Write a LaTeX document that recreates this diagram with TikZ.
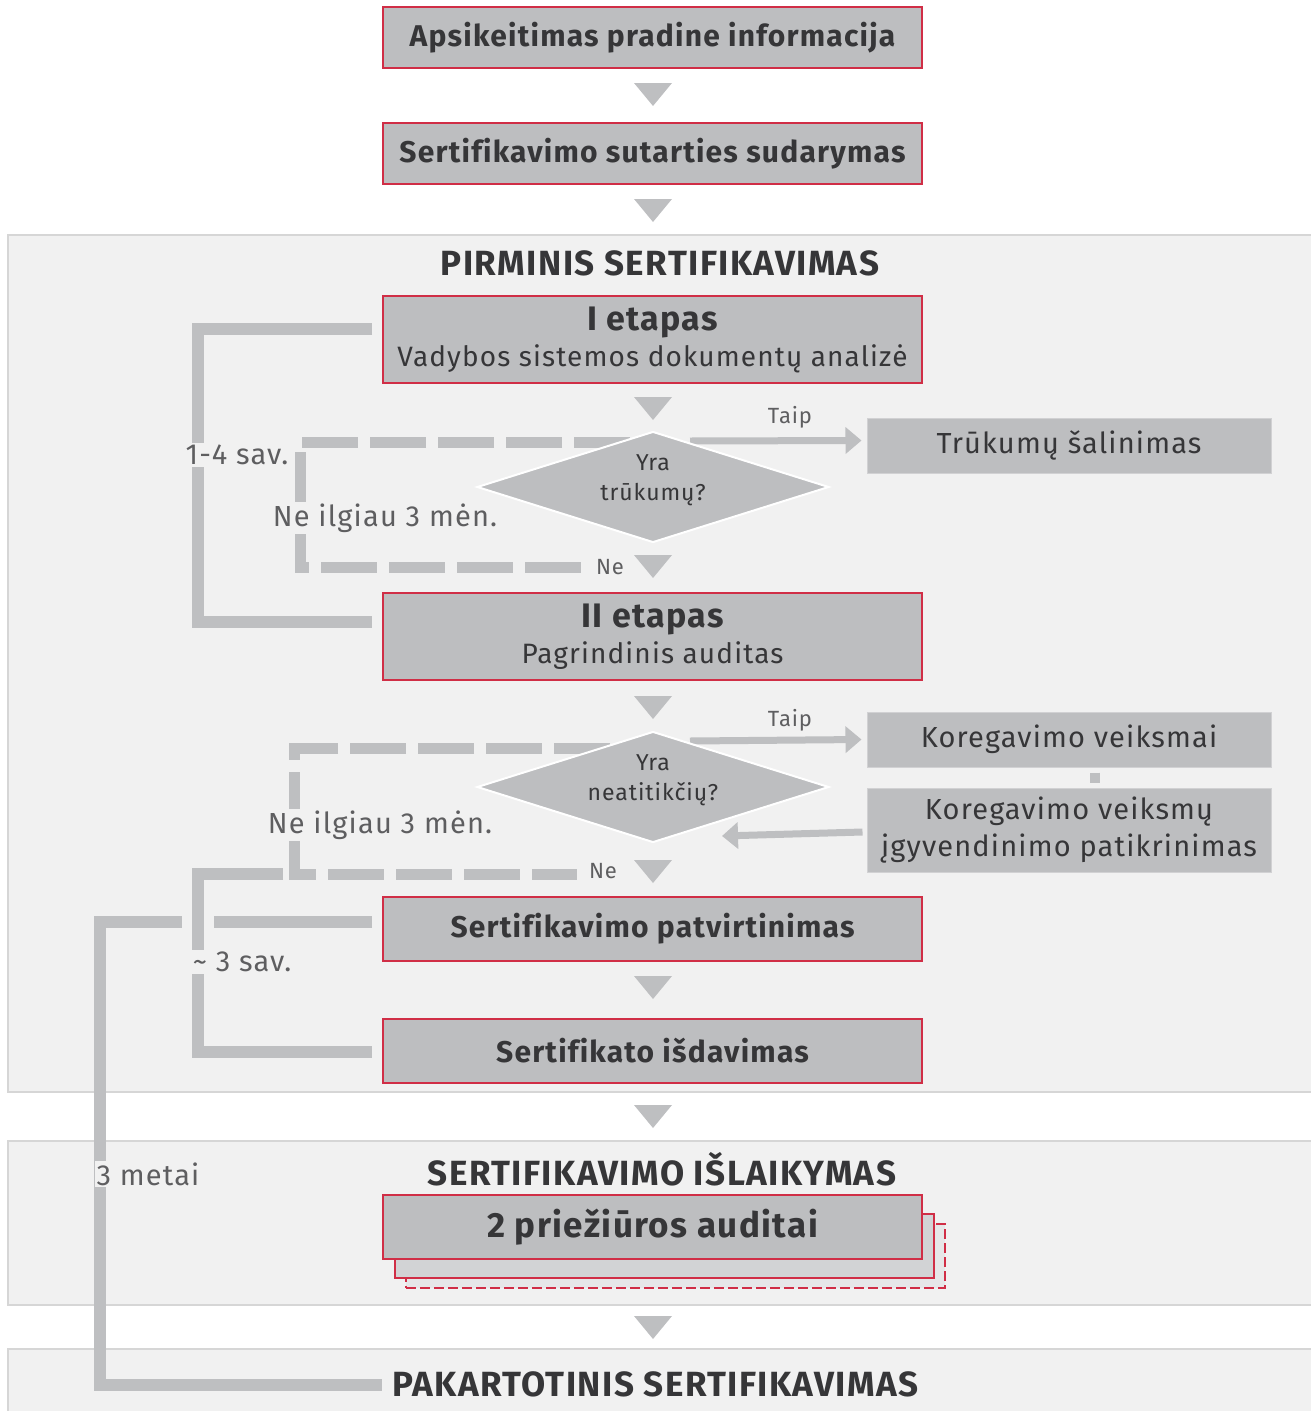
\documentclass[tikz,border=0pt]{standalone}
\usepackage{fontspec}
\setmainfont{Fira Sans}[LetterSpace=4, Ligatures=NoCommon]
\usetikzlibrary{arrows.meta,positioning,shapes.geometric,calc}

\definecolor{boxgray}{HTML}{BDBEC0}
\definecolor{boxred}{HTML}{D02E46}
\definecolor{panel}{HTML}{F1F1F1}
\definecolor{panelline}{HTML}{D6D6D6}
\definecolor{linegray}{HTML}{BEBFC1}
\definecolor{txtdark}{HTML}{363638}
\definecolor{txtgray}{HTML}{5E5E60}
\definecolor{stacktwo}{HTML}{D2D3D5}
\definecolor{stackthree}{HTML}{E6E7E8}

\newcommand\flowtri[2]{\fill[linegray] (#1-19,#2) -- (#1+19,#2) -- (#1,#2+23) -- cycle;}

\tikzset{
  stage/.style={draw=boxred, line width=2pt, fill=boxgray, minimum width=539pt,
    minimum height=61pt, inner sep=0pt, text=txtdark,
    font=\fontsize{30}{36}\selectfont\bfseries},
  side/.style={fill=boxgray, draw=boxgray!70!white, line width=1pt, minimum width=404pt,
    minimum height=55pt, inner sep=0pt, text=txtdark, align=center,
    font=\fontsize{29}{37}\selectfont},
  query/.style={diamond, fill=boxgray, draw=white, line width=2pt, aspect=3.2,
    minimum width=352pt, minimum height=111pt, inner sep=0pt},
  querytext/.style={align=center, text=txtdark, font=\fontsize{23}{30}\selectfont},
  loopline/.style={draw=linegray, line width=11pt, dash pattern=on 56pt off 12pt},
  bracket/.style={draw=linegray, line width=12pt},
  bridge/.style={draw=panel, line width=10pt, double=linegray, double distance=12pt},
  period/.style={fill=panel, text=txtgray, inner sep=2pt, font=\fontsize{29}{34}\selectfont},
  answer/.style={text=txtgray, inner sep=1pt, font=\fontsize{22}{26}\selectfont},
  yesarrow/.style={draw=linegray, line width=7pt, -{Triangle[width=26pt,length=16pt]}},
  title/.style={text=txtdark, font=\fontsize{35}{40}\selectfont\bfseries},
  panelbox/.style={fill=panel, draw=panelline, line width=1.5pt},
}

\begin{document}
\begin{tikzpicture}[x=1pt,y=-1pt]
\useasboundingbox (0,0) rectangle (1310,1411);

% background bands
\filldraw[panelbox] (8,235) rectangle (1320,1092);
\filldraw[panelbox] (8,1141) rectangle (1320,1305);
\filldraw[panelbox] (8,1349) rectangle (1320,1425);

% before the certification
\node[stage] (info) at (652.5,37.5) {Apsikeitimas pradine informacija};
\flowtri{653}{83}
\node[stage] (contract) at (652.5,153.5) {Sertifikavimo sutarties sudarymas};
\flowtri{653}{199}

% initial certification
\node[title] (initial) at (660,263) {PIRMINIS SERTIFIKAVIMAS};
\node[stage, minimum height=87pt, align=center] (stage1) at (652.5,339.5)
  {{\fontsize{34}{38}\selectfont I etapas}\\{\mdseries\fontsize{28}{36}\selectfont Vadybos sistemos dokumentų analizė}};
\flowtri{653}{397}
\node[side] (fix) at (1069,445.5) {Trūkumų šalinimas};
\coordinate (gapsyes) at (690,441);
\coordinate (gapsno) at (630,442);
\coordinate (noend1) at (589,567);
\draw[yesarrow] (gapsyes) -- ([xshift=-5pt,yshift=5pt]fix.west);
\draw[loopline] (gapsno) -- ++(-330,0) |- (noend1);
\node[query] (gaps) at (653,487) {};
\node[querytext] (gapstext) at (653,480) {Yra\\trūkumų?};
\node[answer] (yes1) at (790,417) {Taip};
\node[answer] (no1) at (610,567) {Ne};
\flowtri{653}{555}

\node[stage, minimum height=87pt, align=center] (stage2) at (652.5,636.5)
  {{\fontsize{34}{38}\selectfont II etapas}\\{\mdseries\fontsize{28}{36}\selectfont Pagrindinis auditas}};
\flowtri{653}{696}
\node[side] (actions) at (1069,739.5) {Koregavimo veiksmai};
\node[side, minimum height=84pt] (check) at (1069,830)
  {Koregavimo veiksmų\\įgyvendinimo patikrinimas};
\draw[linegray, line width=10pt] ([xshift=26pt,yshift=-5pt]actions.south)
  -- ([xshift=26pt,yshift=5pt]check.north);
\coordinate (ncyes) at (690,741);
\coordinate (ncno) at (610,748);
\coordinate (loop2bend) at (294,874);
\coordinate (noend2) at (577,874);
\coordinate (ncback) at (722,836);
\draw[yesarrow] (ncyes) -- ([xshift=-5pt]actions.west);
\draw[yesarrow] ([xshift=-4pt,yshift=-2pt]check.west) -- (ncback);
\draw[loopline] (ncno) -| (loop2bend) -- (noend2);
\node[query] (nonconf) at (653,787) {};
\node[querytext] (nonconftext) at (653,780.5) {Yra\\neatitikčių?};
\node[answer] (yes2) at (790,720) {Taip};
\node[answer] (no2) at (603,871) {Ne};
\flowtri{653}{860}

\node[stage, minimum height=64pt] (approve) at (652.5,929) {Sertifikavimo patvirtinimas};
\flowtri{653}{976}
\node[stage, minimum height=64pt] (issue) at (652.5,1051) {Sertifikato išdavimas};
\flowtri{653}{1105}

% maintenance
\node[title] (keep) at (662,1169) {SERTIFIKAVIMO IŠLAIKYMAS};
\node[stage, minimum height=64pt, fill=stackthree, dash pattern=on 10pt off 4pt] (audit3) at (675.5,1255.5) {};
\node[stage, minimum height=64pt, fill=stacktwo] (audit2) at (664.5,1245.5) {};
\node[stage, minimum height=64pt, font=\fontsize{35}{40}\selectfont\bfseries] (audit) at (652.5,1227)
  {2 priežiūros auditai};
\flowtri{653}{1316}

% recertification
\node[title, inner sep=0pt, anchor=west] (recert) at (392,1384) {PAKARTOTINIS SERTIFIKAVIMAS};

% time spans
\draw[bracket] ([xshift=-10pt,yshift=11pt]stage1.west) -- ++(-174,0)
  |- ([xshift=-10pt,yshift=15pt]stage2.west);
\draw[bracket] ([xshift=-10pt,yshift=7pt]approve.west) -- ++(-272,0)
  |- ([xshift=-10pt,yshift=-1pt]recert.west);
\draw[bridge] ([xshift=-11pt]loop2bend) -- ++(-85,0) |- ([xshift=-10pt,yshift=-1pt]issue.west);

\node[period] (weeks1) at (237,455) {1-4 sav.};
\node[period] (limit1) at (385,518) {Ne ilgiau 3 mėn.};
\node[period] (limit2) at (380,825) {Ne ilgiau 3 mėn.};
\node[period] (weeks3) at (242,962) {\textasciitilde{} 3 sav.};
\node[period] (years) at (148,1174) {3 metai};

\end{tikzpicture}
\end{document}
